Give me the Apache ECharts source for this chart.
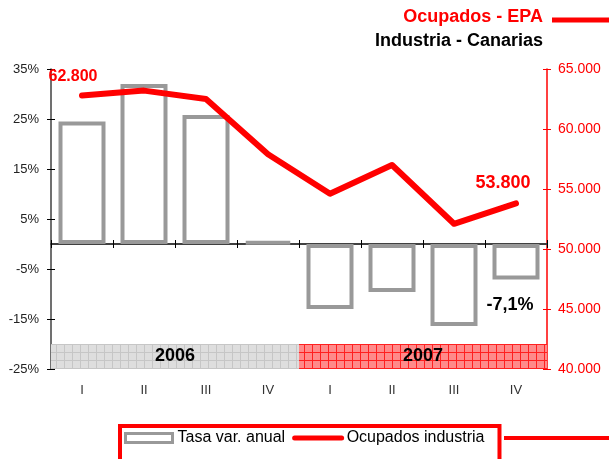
<!DOCTYPE html>
<html>
<head>
<meta charset="utf-8">
<script src="https://cdn.jsdelivr.net/npm/echarts@6/dist/echarts.min.js"></script>
<style>
  html, body { margin: 0; padding: 0; background: #fff; }
  #chart { width: 609px; height: 459px; }
</style>
</head>
<body>
<div id="chart"></div>
<script>
// datos
const quarters = ['I', 'II', 'III', 'IV', 'I', 'II', 'III', 'IV'];
const years = ['2006', '2007'];
const yearSpan = [[0, 4], [4, 8]];            // trimestres que cubre cada año
const tasaVar = [24.5, 32.0, 25.8, 0.5, -13.0, -9.6, -16.4, -7.1];   // %
const ocupados = [62800, 63200, 62500, 57900, 54600, 57000, 52100, 53800];
const pctTicks = [-25, -15, -5, 5, 15, 25, 35];

const FONT = 'Liberation Sans, Arial, sans-serif';

// 62800 -> "62.800"
function miles(v) {
  return String(v).replace(/\B(?=(\d{3})+(?!\d))/g, '.');
}

// trama cuadriculada de la banda de años
function trama(fondo, linea) {
  let c = document.createElement('canvas');
  c.width = 8; c.height = 8;
  let ctx = c.getContext('2d');
  ctx.fillStyle = fondo; ctx.fillRect(0, 0, 8, 8);
  ctx.fillStyle = linea; ctx.fillRect(0, 0, 8, 1); ctx.fillRect(0, 0, 1, 8);
  return { image: c, repeat: 'repeat' };
}
const tramas = [trama('#dedede', '#c6c6c6'), trama('#ff8a8a', '#ff2020')];

// etiquetas sueltas: primer y último punto de la línea, última barra
let lineData = ocupados.map(function (v, i) {
  if (i === 0 || i === ocupados.length - 1) {
    return {
      value: v, symbol: 'circle', symbolSize: 2,
      label: {
        show: true, position: 'top', distance: 10,
        offset: i === 0 ? [-9, 0] : [-13, 0],
        fontSize: i === 0 ? 16 : 18
      }
    };
  }
  return v;
});
let barData = tasaVar.map(function (v, i) {
  if (i === tasaVar.length - 1) {
    return { value: v, label: { show: true, position: 'bottom', distance: 17, offset: [-6, 0] } };
  }
  return v;
});

let bandData = years.map(function (y, i) {
  return [
    { name: y, xAxis: yearSpan[i][0], yAxis: -20, itemStyle: { color: tramas[i] } },
    { xAxis: yearSpan[i][1], yAxis: -25 }
  ];
});

let axisDark = '#404040';

let option = {
  animation: false,
  textStyle: { fontFamily: FONT },
  title: [
    { text: 'Ocupados - EPA', right: 66, top: 8, padding: 0,
      textStyle: { color: '#ff0000', fontSize: 18, fontWeight: 'bold', fontFamily: FONT } },
    { text: 'Industria - Canarias', right: 66, top: 32, padding: 0,
      textStyle: { color: '#000', fontSize: 18, fontWeight: 'bold', fontFamily: FONT } }
  ],
  graphic: [
    { type: 'line', shape: { x1: 552, y1: 20, x2: 609, y2: 20 }, style: { stroke: '#ff0000', lineWidth: 5 } },
    { type: 'line', shape: { x1: 504, y1: 438, x2: 609, y2: 438 }, style: { stroke: '#ff0000', lineWidth: 4 } }
  ],
  legend: {
    data: [
      { name: 'Tasa var. anual', icon: 'rect', itemStyle: { borderWidth: 3, borderColor: '#999', color: '#fff' } },
      { name: 'Ocupados industria', itemStyle: { opacity: 0 }, lineStyle: { width: 5, cap: 'round' } }
    ],
    left: 120, top: 426,
    padding: [4, 15, 20, 4],
    borderColor: '#ff0000', borderWidth: 4,
    itemWidth: 47, itemHeight: 9, itemGap: 7,
    textStyle: { fontSize: 16, color: '#000', fontFamily: FONT }
  },
  grid: { left: 51, right: 62, top: 69, bottom: 90 },
  xAxis: [
    { // eje en el 0%, ticks hacia fuera
      type: 'category', data: quarters, position: 'bottom',
      axisLine: { onZero: true, onZeroAxisIndex: 0, lineStyle: { color: axisDark, width: 2 } },
      axisTick: { show: true, length: 4, lineStyle: { color: '#000' } },
      axisLabel: { show: false }
    },
    { // mismos ticks hacia dentro (cruzan el eje)
      type: 'category', data: quarters, position: 'bottom',
      axisLine: { show: false, onZero: true, onZeroAxisIndex: 0 },
      axisTick: { show: true, inside: true, length: 4, lineStyle: { color: '#000' } },
      axisLabel: { show: false }
    },
    { // trimestres abajo
      type: 'category', data: quarters, position: 'bottom',
      axisLine: { show: false, onZero: false },
      axisTick: { show: false },
      axisLabel: { margin: 15, fontSize: 13, color: '#333' }
    },
    { // eje auxiliar para la banda de años
      type: 'value', min: 0, max: quarters.length, show: false,
      axisLine: { onZero: false }
    }
  ],
  yAxis: [
    {
      type: 'value', min: -25, max: 35, position: 'left',
      axisLine: { show: true, onZero: false, lineStyle: { color: axisDark, width: 1.5 } },
      axisTick: { show: true, length: 4, customValues: pctTicks, lineStyle: { color: '#000' } },
      axisLabel: { customValues: pctTicks, margin: 12, fontSize: 13, color: '#222',
        formatter: function (v) { return v + '%'; } },
      splitLine: { show: false }
    },
    {
      type: 'value', min: 40000, max: 65000, interval: 5000, position: 'right',
      axisLine: { show: true, onZero: false, lineStyle: { color: '#ff0000', width: 1.5 } },
      axisTick: { show: true, length: 4, lineStyle: { color: '#ff0000' } },
      axisLabel: { margin: 11, fontSize: 14, color: '#ff0000', formatter: miles },
      splitLine: { show: false }
    },
    {
      type: 'value', min: -25, max: 35, position: 'left',
      axisLine: { show: false, onZero: false },
      axisTick: { show: true, inside: true, length: 4, customValues: pctTicks, lineStyle: { color: '#000' } },
      axisLabel: { show: false },
      splitLine: { show: false }
    },
    {
      type: 'value', min: 40000, max: 65000, interval: 5000, position: 'right',
      axisLine: { show: false, onZero: false },
      axisTick: { show: true, inside: true, length: 4, lineStyle: { color: '#ff0000' } },
      axisLabel: { show: false },
      splitLine: { show: false }
    }
  ],
  series: [
    {
      name: 'años', type: 'line', xAxisIndex: 3, yAxisIndex: 0, data: [],
      markArea: {
        silent: true,
        label: { show: true, position: 'inside', color: '#000', fontSize: 18, fontWeight: 'bold', fontFamily: FONT },
        data: bandData
      }
    },
    {
      name: 'Tasa var. anual', type: 'bar', xAxisIndex: 0, yAxisIndex: 0,
      data: barData, barWidth: 47, z: 3,
      itemStyle: { color: '#fff', borderColor: '#999', borderWidth: 4 },
      label: {
        color: '#000', fontSize: 18, fontWeight: 'bold', fontFamily: FONT,
        formatter: function (p) { return String(p.value).replace('.', ',') + '%'; }
      }
    },
    {
      name: 'Ocupados industria', type: 'line', xAxisIndex: 0, yAxisIndex: 1,
      data: lineData, symbol: 'none', showSymbol: true, z: 4,
      itemStyle: { color: '#ff0000' },
      lineStyle: { color: '#ff0000', width: 6, cap: 'round', join: 'round' },
      label: {
        color: '#ff0000', fontWeight: 'bold', fontFamily: FONT,
        formatter: function (p) { return miles(p.value); }
      }
    }
  ]
};

let myChart = echarts.init(document.getElementById('chart'));
myChart.setOption(option);
</script>
</body>
</html>
